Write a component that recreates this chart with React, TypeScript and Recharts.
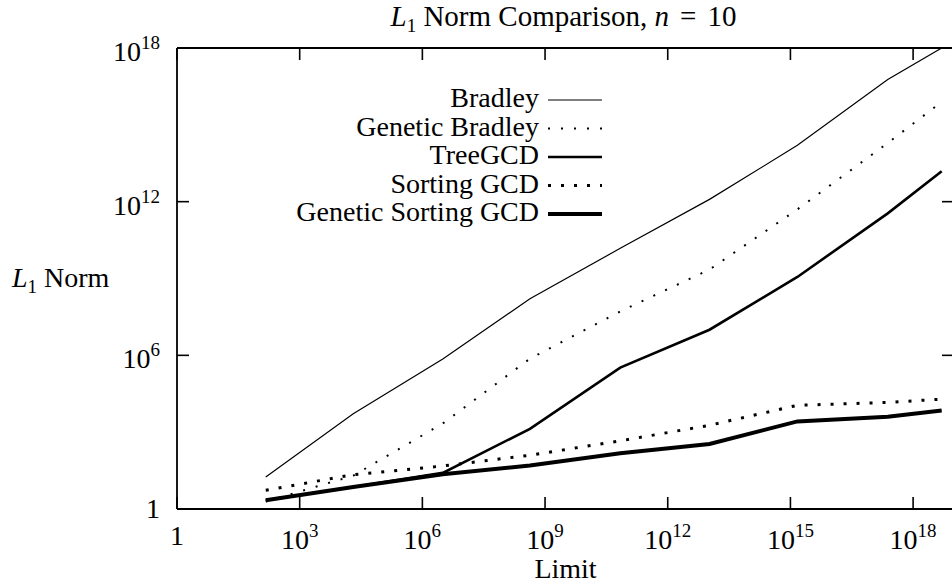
import { LineChart, Line, XAxis, YAxis, Legend, Label } from "recharts";

const FONT = "'Liberation Serif', 'Times New Roman', serif";

// x positions (limit) of the measured points
const limits = [1.48e2, 2.04e4, 3.16e6, 4.27e8, 6.9e10, 1.05e13, 1.48e15, 2.4e17, 5.0e18];
const bradley = [17.8, 5.25e3, 7.24e5, 1.62e8, 1.51e10, 1.23e12, 1.58e14, 5.9e16, 1.0e18];
const geneticBradley = [1.95, 20, 2.19e3, 7.4e5, 5.2e7, 2.24e9, 5.0e11, 1.95e14, 7.9e15];
const treeGcd = [2.19, 7.2, 25.7, 1.35e3, 3.3e5, 1.0e7, 1.15e9, 3.5e11, 1.55e13];
const sortingGcd = [5.4, 21.9, 47.9, 126, 457, 1.86e3, 1.12e4, 1.45e4, 1.95e4];
const geneticSortingGcd = [2.19, 7.2, 22.9, 50, 151, 347, 2.63e3, 3.98e3, 7.08e3];

const xTicks = [1, 1e3, 1e6, 1e9, 1e12, 1e15, 1e18];
const xTickLabels = ["1", "10^3", "10^6", "10^9", "10^12", "10^15", "10^18"];
const yTicks = [1, 1e6, 1e12, 1e18];
const yTickLabels = ["1", "10^6", "10^12", "10^18"];

const series = [
  { key: "bradley", name: "Bradley", width: 1.2, dash: undefined },
  { key: "geneticBradley", name: "Genetic Bradley", width: 2, dash: "2 11" },
  { key: "treeGcd", name: "TreeGCD", width: 2.6, dash: undefined },
  { key: "sortingGcd", name: "Sorting GCD", width: 3, dash: "3 10" },
  { key: "geneticSortingGcd", name: "Genetic Sorting GCD", width: 4, dash: undefined },
];

const data = limits.map((limit, i) => ({
  limit,
  bradley: bradley[i],
  geneticBradley: geneticBradley[i],
  treeGcd: treeGcd[i],
  sortingGcd: sortingGcd[i],
  geneticSortingGcd: geneticSortingGcd[i],
}));

const axisLine = { stroke: "#000", strokeWidth: 1.8 };
const TICK_LEN = 12;

// label text (10^n with superscript) plus an inward tick mark.
// side: where the axis line sits relative to the label anchor
function PowerTick(props: any) {
  const { x, y, payload, textAnchor, labels, values, side } = props;
  const label: string = labels ? labels[values.indexOf(payload.value)] ?? "" : "";
  const [base, exp] = label.split("^");
  let tick = null;
  if (side === "bottom") tick = <line x1={x} x2={x} y1={y - 27} y2={y - 27 - TICK_LEN} />;
  if (side === "left") tick = <line x1={x + 17} x2={x + 17 + TICK_LEN} y1={y} y2={y} />;
  if (side === "top") tick = <line x1={x} x2={x} y1={y + 6} y2={y + 6 + TICK_LEN} />;
  if (side === "right") tick = <line x1={x - 6} x2={x - 6 - TICK_LEN} y1={y} y2={y} />;
  return (
    <g>
      <g stroke="#000" strokeWidth={1.6}>{tick}</g>
      {label ? (
        <text x={x} y={y + (exp ? 13 : 9)} textAnchor={textAnchor} fontFamily={FONT} fontSize={28} fill="#000">
          {base}
          {exp ? (
            <tspan dy={-12} fontSize={19}>
              {exp}
            </tspan>
          ) : null}
        </text>
      ) : null}
    </g>
  );
}

function LegendBox() {
  return (
    <svg width={340} height={150} style={{ display: "block" }}>
      {series.map((s, i) => {
        const y = 20 + i * 28.5;
        return (
          <g key={s.key}>
            <text x={259} y={y + 7} textAnchor="end" fontFamily={FONT} fontSize={28} fill="#000">
              {s.name}
            </text>
            <line x1={268} x2={322} y1={y} y2={y} stroke="#000" strokeWidth={s.width} strokeDasharray={s.dash} />
          </g>
        );
      })}
    </svg>
  );
}

export default function App() {
  return (
    <div style={{ width: 952, height: 585, overflow: "hidden", position: "relative", background: "#fff" }}>
      <style>{"body{margin:0}"}</style>
      <LineChart width={955} height={585} data={data} margin={{ top: 47, right: 0, bottom: 0, left: 0 }}>
        <XAxis
          dataKey="limit"
          type="number"
          scale="log"
          domain={[1, 1e19]}
          allowDataOverflow
          ticks={xTicks}
          interval={0}
          height={76}
          axisLine={axisLine}
          tickLine={false}
          tickSize={6}
          tickMargin={21}
          tick={(p: any) => <PowerTick {...p} labels={xTickLabels} values={xTicks} side="bottom" />}
        >
          <Label
            content={({ viewBox }: any) => (
              <text
                x={viewBox.x + viewBox.width / 2}
                y={viewBox.y + 69}
                textAnchor="middle"
                fontFamily={FONT}
                fontSize={28}
                fill="#000"
              >
                Limit
              </text>
            )}
          />
        </XAxis>
        <XAxis
          xAxisId="top"
          orientation="top"
          dataKey="limit"
          type="number"
          scale="log"
          domain={[1, 1e19]}
          allowDataOverflow
          ticks={xTicks}
          interval={0}
          height={1}
          axisLine={axisLine}
          tickLine={false}
          tickSize={6}
          tickMargin={0}
          tick={(p: any) => <PowerTick {...p} side="top" />}
        >
          <Label
            content={({ viewBox }: any) => (
              <text
                x={viewBox.x + viewBox.width / 2 - 2}
                y={viewBox.y - 21}
                textAnchor="middle"
                fontFamily={FONT}
                fontSize={29}
                fill="#000"
              >
                <tspan fontStyle="italic">L</tspan>
                <tspan dy={6} fontSize={19}>1</tspan>
                <tspan dy={-6}>{" Norm Comparison, "}</tspan>
                <tspan fontStyle="italic">n</tspan>
                <tspan dx={11}>=</tspan>
                <tspan dx={11}>10</tspan>
              </text>
            )}
          />
        </XAxis>
        <YAxis
          type="number"
          scale="log"
          domain={[1, 1e18]}
          allowDataOverflow
          ticks={yTicks}
          interval={0}
          width={177}
          axisLine={axisLine}
          tickLine={false}
          tickSize={6}
          tickMargin={11}
          tick={(p: any) => <PowerTick {...p} labels={yTickLabels} values={yTicks} side="left" />}
        >
          <Label
            content={({ viewBox }: any) => (
              <text x={viewBox.x + 12} y={viewBox.y + 239} fontFamily={FONT} fontSize={28} fill="#000">
                <tspan fontStyle="italic">L</tspan>
                <tspan dy={6} fontSize={19}>1</tspan>
                <tspan dy={-6}>{" Norm"}</tspan>
              </text>
            )}
          />
        </YAxis>
        <YAxis
          yAxisId="right"
          orientation="right"
          type="number"
          scale="log"
          domain={[1, 1e18]}
          allowDataOverflow
          ticks={yTicks}
          interval={0}
          width={1}
          axisLine={axisLine}
          tickLine={false}
          tickSize={6}
          tickMargin={0}
          tick={(p: any) => <PowerTick {...p} side="right" />}
        />
        <Legend
          layout="horizontal"
          verticalAlign="middle"
          align="center"
          wrapperStyle={{ left: 280, top: 80, width: 340, height: 150 }}
          content={() => <LegendBox />}
        />
        {series.map((s) => (
          <Line
            key={s.key}
            type="linear"
            dataKey={s.key}
            name={s.name}
            stroke="#000"
            strokeWidth={s.width}
            strokeDasharray={s.dash}
            dot={false}
            activeDot={false}
            isAnimationActive={false}
          />
        ))}
      </LineChart>
    </div>
  );
}
